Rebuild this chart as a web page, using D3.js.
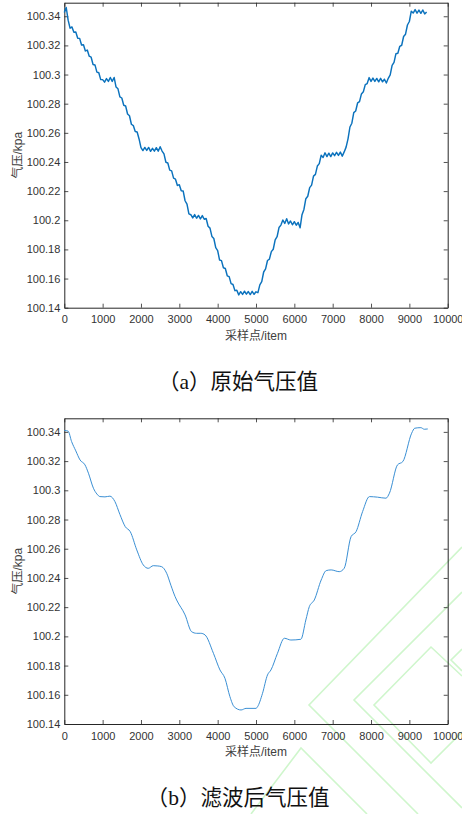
<!DOCTYPE html>
<html>
<head>
<meta charset="utf-8">
<script src="https://cdn.jsdelivr.net/npm/d3@7/dist/d3.min.js"></script>
<style>
  html, body { margin: 0; padding: 0; background: #fff; }
  svg { display: block; }
</style>
</head>
<body>
<svg id="fig" width="462" height="814"></svg>
<script>
// Raw barometer readings (kPa), one value every rawStep samples
const rawStep = 50;
const rawKpa = [
  100.3425, 100.3460, 100.3373, 100.3318, 100.3327, 100.3290, 100.3292, 100.3249, 100.3248, 100.3203,
  100.3205, 100.3162, 100.3168, 100.3126, 100.3119, 100.3069, 100.3066, 100.3017, 100.3012, 100.2965,
  100.2965, 100.2948, 100.2972, 100.2953, 100.2980, 100.2953, 100.2980, 100.2914, 100.2902, 100.2847,
  100.2839, 100.2789, 100.2784, 100.2729, 100.2717, 100.2659, 100.2650, 100.2609, 100.2606, 100.2558,
  100.2499, 100.2478, 100.2500, 100.2479, 100.2500, 100.2473, 100.2494, 100.2474, 100.2498, 100.2474,
  100.2505, 100.2475, 100.2455, 100.2398, 100.2393, 100.2344, 100.2339, 100.2289, 100.2282, 100.2239,
  100.2244, 100.2202, 100.2201, 100.2134, 100.2111, 100.2044, 100.2038, 100.2016, 100.2039, 100.2014,
  100.2033, 100.2009, 100.2032, 100.2007, 100.2012, 100.1959, 100.1946, 100.1889, 100.1875, 100.1812,
  100.1792, 100.1727, 100.1723, 100.1674, 100.1669, 100.1619, 100.1613, 100.1565, 100.1559, 100.1517,
  100.1520, 100.1488, 100.1510, 100.1491, 100.1513, 100.1493, 100.1511, 100.1490, 100.1512, 100.1492,
  100.1509, 100.1503, 100.1557, 100.1579, 100.1645, 100.1666, 100.1724, 100.1733, 100.1785, 100.1801,
  100.1865, 100.1887, 100.1950, 100.1967, 100.2002, 100.1978, 100.2011, 100.1975, 100.1995, 100.1969,
  100.1990, 100.1966, 100.1985, 100.1948, 100.2038, 100.2074, 100.2148, 100.2165, 100.2224, 100.2241,
  100.2303, 100.2315, 100.2372, 100.2389, 100.2446, 100.2431, 100.2463, 100.2437, 100.2460, 100.2437,
  100.2462, 100.2443, 100.2466, 100.2445, 100.2468, 100.2440, 100.2469, 100.2502, 100.2559, 100.2640,
  100.2666, 100.2739, 100.2750, 100.2805, 100.2814, 100.2867, 100.2882, 100.2931, 100.2938, 100.2979,
  100.2953, 100.2976, 100.2953, 100.2973, 100.2950, 100.2974, 100.2950, 100.2968, 100.2942, 100.2974,
  100.2998, 100.3063, 100.3084, 100.3143, 100.3146, 100.3194, 100.3201, 100.3261, 100.3277, 100.3340,
  100.3364, 100.3435, 100.3422, 100.3446, 100.3421, 100.3442, 100.3420, 100.3443, 100.3416, 100.3430
];

// Filtered pressure: sample index and value (kPa)
const filtItems = [
  0, 100, 190, 300, 410, 540, 630, 760, 850, 930, 1060, 1190, 1320, 1450, 1590, 1720, 1890,
  2060, 2190, 2320, 2440, 2540, 2670, 2780, 2890, 2930, 3150, 3320, 3450, 3560, 3670, 3890,
  4060, 4190, 4320, 4430, 4610, 4740, 5000, 5040, 5170, 5300, 5390, 5560, 5740, 5910, 6170,
  6300, 6390, 6520, 6700, 6830, 6960, 7170, 7300, 7480, 7610, 7780, 7960, 8170, 8390, 8480,
  8690, 8830, 9060, 9140, 9300, 9390, 9480
];
const filtKpa = [
  100.3410, 100.3405, 100.3334, 100.3270, 100.3208, 100.3174, 100.3117, 100.3014, 100.2975, 100.2957,
  100.2955, 100.2960, 100.2923, 100.2835, 100.2751, 100.2717, 100.2592, 100.2489, 100.2466, 100.2484,
  100.2482, 100.2477, 100.2432, 100.2350, 100.2272, 100.2249, 100.2147, 100.2032, 100.2021, 100.2021,
  100.2010, 100.1884, 100.1770, 100.1713, 100.1587, 100.1518, 100.1496, 100.1507, 100.1507, 100.1518,
  100.1610, 100.1736, 100.1770, 100.1884, 100.1987, 100.1975, 100.1980, 100.2112, 100.2203, 100.2249,
  100.2386, 100.2450, 100.2455, 100.2443, 100.2466, 100.2683, 100.2717, 100.2854, 100.2957, 100.2953,
  100.2946, 100.2980, 100.3174, 100.3197, 100.3391, 100.3425, 100.3429, 100.3418, 100.3420
];

const xTicks = [0, 1000, 2000, 3000, 4000, 5000, 6000, 7000, 8000, 9000, 10000];
const yTicks = [100.14, 100.16, 100.18, 100.2, 100.22, 100.24, 100.26, 100.28, 100.3, 100.32, 100.34];
const xDomain = [0, 10000];
const yDomain = [100.14, 100.3493];

const xLabel = "采样点/item";
const yLabel = "气压/kpa";
const captionTags = ["a", "b"];
const captionTitles = ["原始气压值", "滤波后气压值"];

const svg = d3.select("#fig");
const axisColor = "#262626";
const tickFont = "'Liberation Sans', Arial, sans-serif";
const cjkFont = "'Liberation Sans', 'Noto Sans CJK SC', sans-serif";

// faint green lattice printed across the lower right of the page
const lattice = [
  [[462, 547], [309, 705], [418, 814]],
  [[462, 592], [354, 700], [462, 808]],
  [[462, 676], [431, 647], [374, 705], [431, 763], [462, 732]],
  [[251, 814], [301, 748], [367, 814]],
  [[462, 649], [451, 660], [462, 671]]
];
svg.append("g")
  .selectAll("path")
  .data(lattice)
  .join("path")
  .attr("d", d3.line())
  .attr("fill", "none")
  .attr("stroke", "#cff6cc")
  .attr("stroke-width", 1.6);

const panels = [
  {
    top: 2.7, bottom: 307.7, captionY: 389,
    data: rawKpa.map((v, i) => ({ x: i * rawStep, y: v })),
    stroke: "#0b72bd", width: 1.45, curve: d3.curveLinear
  },
  {
    top: 418.3, bottom: 724, captionY: 805,
    data: filtItems.map((x, i) => ({ x, y: filtKpa[i] })),
    stroke: "#3a8fd4", width: 1, curve: d3.curveMonotoneX
  }
];

const left = 64.3, right = 447.7;

panels.forEach((p, k) => {
  const x = d3.scaleLinear().domain(xDomain).range([left, right]);
  const y = d3.scaleLinear().domain(yDomain).range([p.bottom, p.top]);
  const g = svg.append("g");

  const style = sel => {
    sel.select(".domain").attr("stroke", axisColor).attr("stroke-width", 1);
    sel.selectAll(".tick line").attr("stroke", axisColor).attr("stroke-width", 0.8);
    sel.selectAll(".tick text")
      .attr("fill", "#333")
      .attr("font-family", tickFont)
      .attr("font-size", 11);
  };

  // bottom & left axes with inward ticks
  g.append("g")
    .attr("transform", `translate(0,${p.bottom})`)
    .call(d3.axisBottom(x).tickValues(xTicks).tickSizeInner(-4).tickSizeOuter(0)
      .tickPadding(8).tickFormat(d3.format("d")))
    .call(style);

  g.append("g")
    .attr("transform", `translate(${left},0)`)
    .call(d3.axisLeft(y).tickValues(yTicks).tickSizeInner(-4).tickSizeOuter(0)
      .tickPadding(4).tickFormat(d => String(+d.toFixed(2))))
    .call(style);

  // mirrored box edges with ticks, no labels
  g.append("g")
    .attr("transform", `translate(0,${p.top})`)
    .call(d3.axisTop(x).tickValues(xTicks).tickSizeInner(-4).tickSizeOuter(0).tickFormat(""))
    .call(style);

  g.append("g")
    .attr("transform", `translate(${right},0)`)
    .call(d3.axisRight(y).tickValues(yTicks).tickSizeInner(-4).tickSizeOuter(0).tickFormat(""))
    .call(style);

  // pressure trace
  const line = d3.line().x(d => x(d.x)).y(d => y(d.y)).curve(p.curve);
  g.append("path")
    .datum(p.data)
    .attr("fill", "none")
    .attr("stroke", p.stroke)
    .attr("stroke-width", p.width)
    .attr("stroke-linejoin", "round")
    .attr("d", line);

  // axis titles
  g.append("text")
    .attr("x", (left + right) / 2)
    .attr("y", p.bottom + 32)
    .attr("text-anchor", "middle")
    .attr("font-family", cjkFont)
    .attr("font-size", 12)
    .attr("fill", "#404040")
    .text(xLabel);

  g.append("text")
    .attr("transform", `translate(22,${(p.top + p.bottom) / 2}) rotate(-90)`)
    .attr("text-anchor", "middle")
    .attr("font-family", cjkFont)
    .attr("font-size", 12)
    .attr("fill", "#404040")
    .text(yLabel);

  // panel caption: full-width brackets, serif tag letter, then the title
  const cap = svg.append("text")
    .attr("x", 238)
    .attr("y", p.captionY)
    .attr("text-anchor", "middle")
    .attr("font-family", "'Noto Sans CJK SC', sans-serif")
    .attr("font-size", 21.5)
    .attr("fill", "#111");
  cap.append("tspan").text("（");
  cap.append("tspan").attr("font-family", "'Liberation Serif', serif").text(captionTags[k]);
  cap.append("tspan").text("）" + captionTitles[k]);
});
</script>
</body>
</html>
